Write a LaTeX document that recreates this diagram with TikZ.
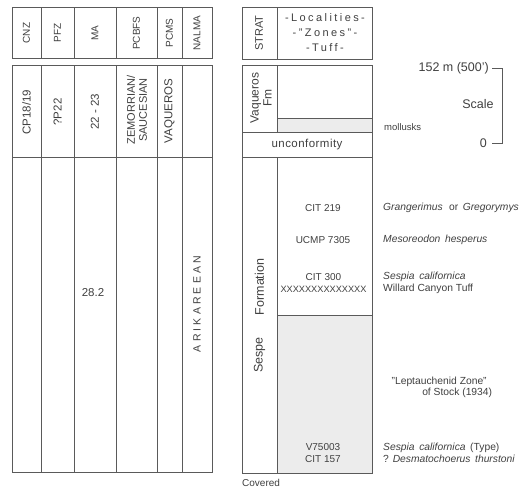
\documentclass[tikz,border=0pt]{standalone}
\usepackage{fontspec}
\setmainfont{Liberation Sans}
\definecolor{ln}{HTML}{5A5A5A}
\definecolor{tx}{HTML}{404040}
\definecolor{sh}{HTML}{ECECEC}
\newcommand{\fsz}[1]{\fontsize{#1}{#1}\selectfont}
\begin{document}
\begin{tikzpicture}[x=1pt,y=-1pt,
  cell/.style={draw=ln,line width=1pt},
  lbl/.style={text=tx,font=\fsz{10},inner sep=0pt,align=center},
  vlbl/.style={lbl,rotate=90},
  sidel/.style={text=tx,font=\fontsize{10.3}{12}\selectfont,inner sep=0pt,anchor=west,align=left}]
\useasboundingbox (0,0) rectangle (529,490);
\fill[white] (0,0) rectangle (529,490);
% ---------- left table ----------
\draw[cell] (12,7) rectangle (212,58);
\draw[cell] (12,65) rectangle (212,472);
\draw[cell] (12,157) -- (212,157);
\foreach \x in {41,74,116,157,182}{
  \draw[cell] (\x,7) -- (\x,58);
  \draw[cell] (\x,65) -- (\x,472);
}
\node[vlbl] (hcnz) at (26.5,33) {CNZ};
\node[vlbl] (hpfz) at (57.5,33) {PFZ};
\node[vlbl] (hma) at (95,33) {MA};
\node[vlbl] (hpcbfs) at (136.5,33) {PCBFS};
\node[vlbl] (hpcms) at (169.5,33) {PCMS};
\node[vlbl] (hnalma) at (197,33) {NALMA};
\node[vlbl,font=\fsz{11.5}] (cp) at (26.5,112) {CP18/19};
\node[vlbl,font=\fsz{11.5}] (p22) at (57.5,112) {?P22};
\node[vlbl,font=\fsz{11.5}] (ma1) at (95,112) {22 - 23};
\node[vlbl,font=\fontsize{11}{12}\selectfont] (zem) at (137,110) {ZEMORRIAN/\\SAUCESIAN};
\node[vlbl,font=\fsz{11.5}] (vaq) at (169.5,111) {VAQUEROS};
\node[lbl,font=\fsz{11.5}] (ma2) at (93,293) {28.2};
\node[vlbl,font=\fsz{10.5}\addfontfeatures{LetterSpace=30}] (ari) at (197,304) {ARIKAREEAN};
% ---------- right table ----------
\draw[cell] (242,7) rectangle (372,59);
\draw[cell] (277,7) -- (277,59);
\fill[sh] (277,118) rectangle (372,132);
\fill[sh] (277,315) rectangle (372,473);
\draw[cell] (242,65) rectangle (372,473);
\draw[cell] (277,65) -- (277,132);
\draw[cell] (277,118) -- (372,118);
\draw[cell] (242,132) -- (372,132);
\draw[cell] (242,157) -- (372,157);
\draw[cell] (277,157) -- (277,473);
\draw[cell] (277,315) -- (372,315);
\node[vlbl,font=\fsz{11}] (hstrat) at (259,33) {STRAT};
\node[lbl,font=\fontsize{11}{15}\selectfont\addfontfeatures{LetterSpace=22}] (hloc) at (325,33) {-Localities-\\-"Zones"-\\-Tuff-};
\node[vlbl,font=\fontsize{12}{13}\selectfont] (vfm) at (261,98) {Vaqueros\\Fm};
\node[lbl,font=\fsz{11.5}\addfontfeatures{LetterSpace=4}] (unc) at (307,145) {unconformity};
\node[vlbl,font=\fsz{12.5}] (form) at (259.5,287) {Formation};
\node[vlbl,font=\fsz{12.5}] (sespe) at (259.5,355) {Sespe};
\node[lbl] (c219) at (323,208) {CIT 219};
\node[lbl] (ucmp) at (323,240) {UCMP 7305};
\node[lbl,font=\fontsize{10}{11.5}\selectfont] (c300) at (323.5,283) {CIT 300\\{\fontsize{9.2}{11.5}\selectfont XXXXXXXXXXXXXX}};
\node[lbl,font=\fontsize{10}{11.5}\selectfont] (v75) at (323,453) {V75003\\CIT 157};
\node[sidel,font=\fsz{10}] (cov) at (242,483) {Covered};
% ---------- side labels ----------
\node[sidel,font=\fsz{9.5}] (moll) at (384,127) {mollusks};
\node[sidel] (grang) at (383,208) {\textit{Grangerimus}\,\, or \,\textit{Gregorymys}};
\node[sidel] (meso) at (383,240) {\textit{Mesoreodon}\, \textit{hesperus}};
\node[sidel,font=\fontsize{10.3}{11.5}\selectfont] (sesp) at (383,283) {\textit{Sespia}\, \textit{californica}\\ Willard Canyon Tuff};
\node[sidel,font=\fontsize{10.3}{11}\selectfont,align=center] (lept) at (386,387) {"Leptauchenid Zone"\\\hspace*{3.5em}of Stock (1934)};
\node[sidel,font=\fontsize{10.3}{11.5}\selectfont] (sesp2) at (383,453) {\textit{Sespia}\, \textit{californica}\, (Type)\\? \textit{Desmatochoerus}\, \textit{thurstoni}};
% ---------- scale ----------
\node[lbl,anchor=east,font=\fsz{12.5}] (s152) at (489,68) {152 m (500')};
\node[lbl,anchor=east,font=\fsz{12.5}] (s0) at (487,143) {0};
\node[lbl,font=\fsz{12.5}] (sc) at (478,104) {Scale};
\coordinate (bt) at (502,68);
\coordinate (bb) at (502,143);
\draw[cell] (s152.east) ++(3,0) -- (bt) -- (bb) -- ([xshift=-10pt]bb);
\end{tikzpicture}
\end{document}
